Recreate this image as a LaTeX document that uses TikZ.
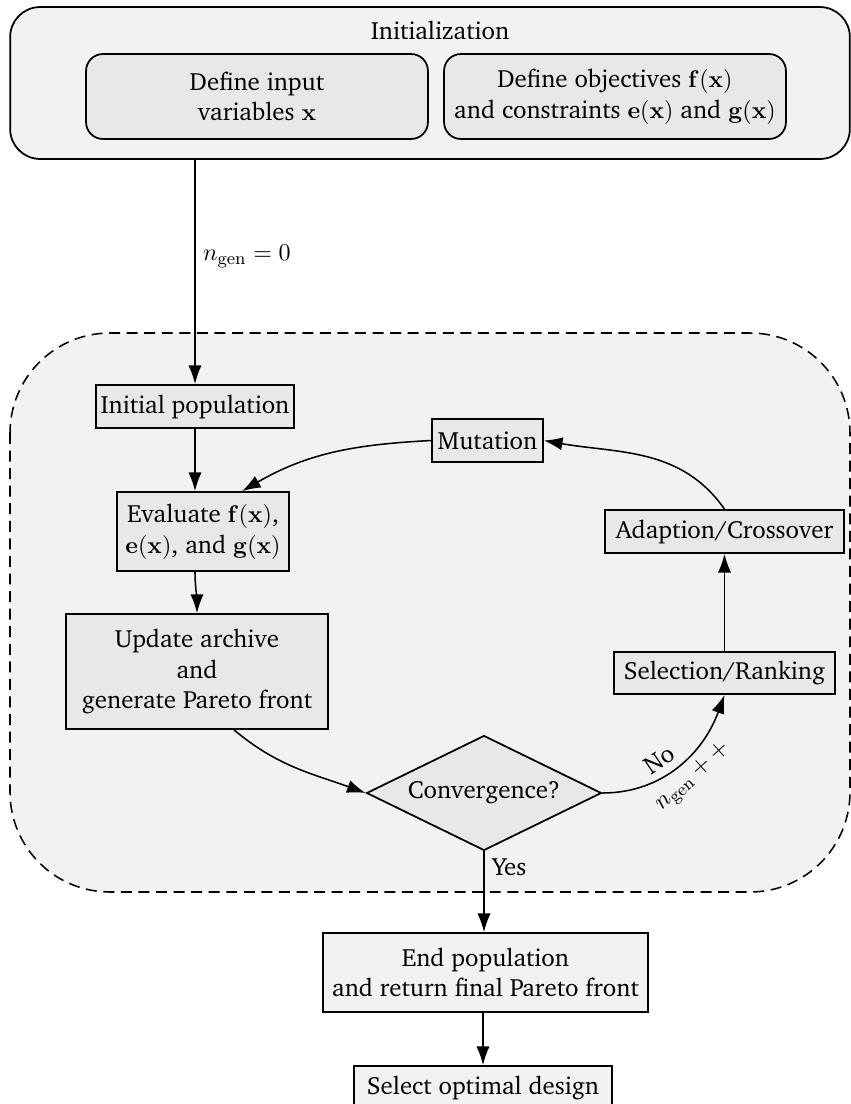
\documentclass[tikz,border=0pt]{standalone}
\usepackage[T1]{fontenc}
\usepackage{charter}
\usepackage{amsmath}
\usetikzlibrary{shapes.geometric,arrows.meta}
\newcommand{\bodyfont}{\fontsize{11.35}{14}\selectfont}
\tikzset{
  px/.style={x=0.016cm,y=-0.016cm},
  lbl/.style={font=\bodyfont, align=center},
  box/.style={draw, line width=0.8pt, fill=black!9, font=\bodyfont, align=center, inner sep=0pt},
  outbox/.style={box, fill=black!5},
  rbox/.style={box, rounded corners=0.27cm},
  arr/.style={line width=0.7pt, -{Latex[length=8.5pt,width=6pt]}},
}
\begin{document}
\begin{tikzpicture}[px]
\useasboundingbox (0,0) rectangle (850,1104);
% outer init box
\node[outbox, rounded corners=0.48cm, minimum width=13.44cm, minimum height=2.432cm] (init) at (430,83) {};
\node[lbl] (inittitle) at (440,30) {Initialization};
\node[rbox, minimum width=5.472cm, minimum height=1.36cm] (def1) at (257,96.5) {Define input\\variables $\mathbf{x}$};
\node[rbox, minimum width=5.472cm, minimum height=1.36cm] (def2) at (615,96.5) {Define objectives $\mathbf{f}(\mathbf{x})$\\and constraints $\mathbf{e}(\mathbf{x})$ and $\mathbf{g}(\mathbf{x})$};
% dashed region
\draw[dash pattern=on 5pt off 3pt, line width=0.7pt, fill=black!5, rounded corners=1.6cm] (10,333) rectangle (850,892);
% nodes in loop
\node[box, minimum width=3.168cm, minimum height=0.688cm] (initpop) at (195,406.5) {Initial population};
\node[box, minimum width=2.752cm, minimum height=1.264cm] (eval) at (203,531.5) {Evaluate $\mathbf{f}(\mathbf{x})$,\\$\mathbf{e}(\mathbf{x})$, and $\mathbf{g}(\mathbf{x})$};
\node[box, minimum width=4.192cm, minimum height=1.84cm] (update) at (197,671.5) {Update archive\\and\\generate Pareto front};
\node[box, diamond, aspect=2, minimum width=3.76cm, minimum height=1.84cm] (conv) at (484,793) {Convergence?};
\node[box, minimum width=3.536cm, minimum height=0.672cm] (sel) at (724.5,673) {Selection/Ranking};
\node[box, minimum width=3.824cm, minimum height=0.688cm] (adapt) at (724.5,531.5) {Adaption/Crossover};
\node[box, minimum width=1.776cm, minimum height=0.688cm] (mut) at (487.5,440.5) {Mutation};
\node[outbox, minimum width=5.2cm, minimum height=1.264cm] (endpop) at (485.5,972.5) {End population\\and return final Pareto front};
\node[outbox, minimum width=4.128cm, minimum height=0.688cm] (select) at (483,1087.5) {Select optimal design};
% connectors
\draw[arr] (init.south -| initpop.north) -- node[right, font=\bodyfont, pos=0.43] {$n_{\mathrm{gen}}=0$} (initpop.north);
\draw[arr] (initpop.south) -- (initpop.south |- eval.north);
\draw[arr] ([xshift=-0.128cm]eval.south) to[out=-90,in=90] (update.north);
\draw[arr] ([xshift=0.592cm]update.south) to[out=-40,in=160] (conv.west);
\draw[arr] (conv.east) to[out=0,in=-110] node[pos=0.42, sloped, above, font=\bodyfont] {No} node[pos=0.52, sloped, below, font=\bodyfont] {$n_{\mathrm{gen}}++$} (sel.south);
\draw[arr] (sel.north) -- (sel.north |- adapt.south);
\draw[arr] (adapt.north) to[out=125,in=-10] (mut.east);
\draw[arr] (mut.west) to[out=183,in=30] ([xshift=0.624cm]eval.north);
\draw[arr] (conv.south) -- node[right, font=\bodyfont, pos=0.2] {Yes} (conv.south |- endpop.north);
\draw[arr] (endpop.south -| select.north) -- (select.north);
\end{tikzpicture}
\end{document}
